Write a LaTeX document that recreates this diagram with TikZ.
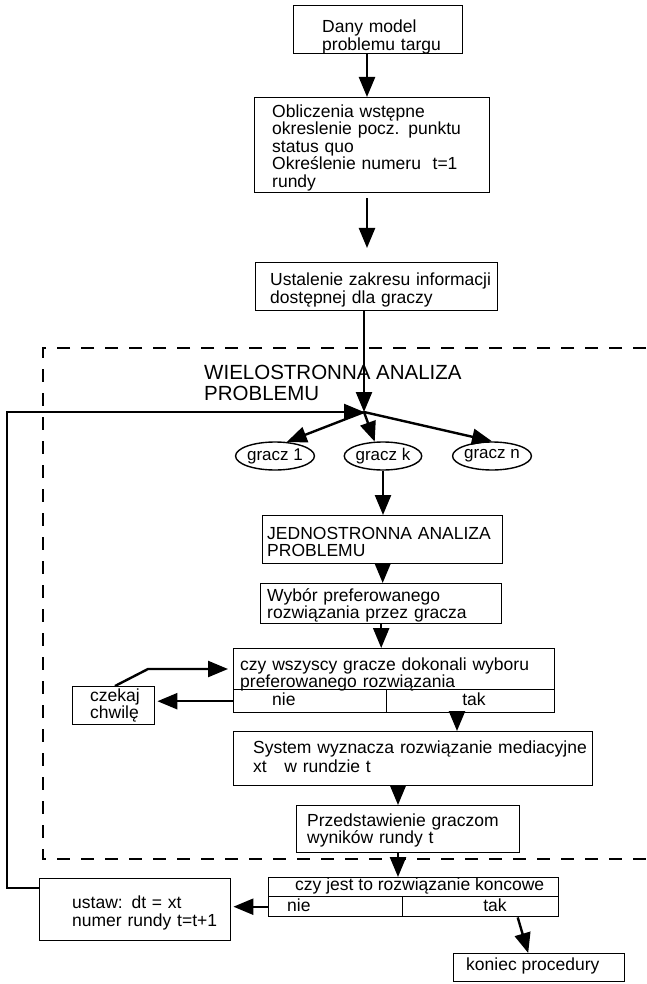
\documentclass[tikz,border=0pt]{standalone}
\usepackage{fontspec}
\setmainfont{Liberation Sans}
\usetikzlibrary{arrows.meta,shapes.geometric,calc}
\newcommand\fz[1]{\fontsize{17.5}{#1}\selectfont\lineskiplimit=-50pt\lineskip=0pt}
\tikzset{
  box/.style={draw, line width=1.4pt, inner sep=0pt, anchor=north west},
  txt/.style={inner sep=0pt, anchor=north west, align=left},
  lbl/.style={inner sep=0pt, font=\fz{18}},
  ell/.style={ellipse, draw, line width=1.4pt, inner sep=0pt, minimum width=66pt, minimum height=28pt, font=\fontsize{17}{18}\selectfont},
  arr/.style={line width=2.4pt, -{Triangle[length=20pt,width=16pt]}},
  dsh/.style={line width=2.6pt, dash pattern=on 13pt off 11pt},
}
\begin{document}
\begin{tikzpicture}[x=1pt,y=-1pt]
\useasboundingbox (0,0) rectangle (646,984);
% dashed region
\draw[dsh] (646,348) -- (43,348) -- (43,859) -- (646,859);

% boxes and texts
\node[box, minimum width=169pt, minimum height=48pt] (b1) at (293,5) {};
\node[txt, text width=138pt, font=\fz{18}] (t1) at (322,19.2) {Dany model\\problemu targu};

\node[box, minimum width=235pt, minimum height=95pt] (b2) at (254,97) {};
\node[txt, text width=215pt, font=\fz{17.5}] (t2) at (272,104.2) {Obliczenia wstępne\\okreslenie pocz. punktu\\status quo\\Określenie numeru\ \ t=1\\rundy};

\node[box, minimum width=242pt, minimum height=48pt] (b3) at (255,262) {};
\node[txt, text width=226pt, font=\fz{18}] (t3) at (270,272.2) {Ustalenie zakresu informacji\\dostępnej dla graczy};

\node[txt, font=\fontsize{20.5}{21}\selectfont] (hdr) at (204,365.3) {WIELOSTRONNA ANALIZA\\PROBLEMU};

\coordinate (J) at (364,412);
\coordinate (fb) at (7,412);

\node[ell] (g1) at (275,456) {gracz 1};
\node[ell] (gk) at (383,456) {gracz k};
\node[ell] (gn) at (492,456) {gracz n};

\node[box, minimum width=240pt, minimum height=48pt] (b4) at (262,515) {};
\node[txt, text width=234pt, font=\fz{17}] (t4) at (267,527.5) {JEDNOSTRONNA ANALIZA\\PROBLEMU};

\node[box, minimum width=241pt, minimum height=40pt] (b5) at (260,583) {};
\node[txt, text width=232pt, font=\fz{17}] (t5) at (267,588.2) {Wybór preferowanego\\rozwiązania przez gracza};

\node[box, minimum width=321pt, minimum height=41pt] (b6) at (233,648) {};
\node[txt, text width=312pt, font=\fz{17}] (t6) at (240,657.2) {czy wszyscy gracze dokonali wyboru\\preferowanego rozwiązania};
\node[box, minimum width=153pt, minimum height=23pt] (c6n) at (233,689) {};
\node[box, minimum width=168pt, minimum height=23pt] (c6t) at (386,689) {};
\node[lbl, anchor=base west] (n1) at (272,705) {nie};
\node[lbl, anchor=base] (k1) at (474,705) {tak};

\node[box, minimum width=82pt, minimum height=38pt] (b7) at (72,686) {};
\node[txt, text width=62pt, font=\fz{17}] (t7) at (90,688.2) {czekaj\\chwilę};

\node[box, minimum width=359pt, minimum height=54pt] (b8) at (233,731) {};
\node[txt, text width=345pt, font=\fz{19}] (t8) at (253,740.2) {System wyznacza rozwiązanie mediacyjne\\xt\ \ \ w rundzie t};

\node[box, minimum width=223pt, minimum height=47pt] (b9) at (296,805) {};
\node[txt, text width=210pt, font=\fz{17}] (t9) at (307,813.2) {Przedstawienie graczom\\wyników rundy t};

\node[box, minimum width=290pt, minimum height=19pt] (b10) at (268,877) {};
\node[box, minimum width=134pt, minimum height=20pt] (c10n) at (268,896) {};
\node[box, minimum width=156pt, minimum height=20pt] (c10t) at (402,896) {};
\node[lbl, anchor=base west] (t10) at (295,890) {czy jest to rozwiązanie koncowe};
\node[lbl, anchor=base west] (n2) at (287,911) {nie};
\node[lbl, anchor=base] (k2) at (495,911) {tak};

\node[box, minimum width=191pt, minimum height=62pt] (b11) at (39,878) {};
\node[txt, text width=158pt, font=\fz{18}] (t11) at (72,895.2) {ustaw: dt = xt\\numer rundy t=t+1};

\node[box, minimum width=171pt, minimum height=28pt] (b12) at (453,953) {};
\node[lbl, anchor=base west] (t12) at (466,970) {koniec procedury};

% connectors
\coordinate (x1) at (367,0);
\coordinate (x2) at (457,0);
\coordinate (x3) at (398,0);
\coordinate (cb) at (148,669);
\draw[arr] (b1.south -| x1) -- (b2.north -| x1);
\draw[arr, shorten <=5pt, shorten >=14pt] (b2.south -| x1) -- (b3.north -| x1);
\draw[arr] (b3.south -| J) -- (J);
\draw[arr] ($(b11.north west)+(0,10)$) -| (fb) -- (J);
\draw[arr] (J) -- (g1.50);
\draw[arr] (J) -- (gk.120);
\draw[arr] (J) -- (gn.north);
\draw[arr] (gk.south) -- (gk.south |- b4.north);
\draw[arr] (b4.south) -- (b4.south |- b5.north);
\draw[arr] (b5.south) -- (b5.south |- b6.north);
\draw[arr, shorten >=2pt] (c6n.west) -- (c6n.west -| b7.east);
\draw[arr, shorten >=5pt] ($(b7.north west)+(43,0)$) -- (cb) -- (cb -| b6.west);
\draw[arr] (c6t.south -| x2) -- (b8.north -| x2);
\draw[arr] (b8.south -| x3) -- (b9.north -| x3);
\draw[arr] (b9.south -| x3) -- (b10.north -| x3);
\draw[arr, shorten >=2pt] (c10n.west) -- (c10n.west -| b11.east);
\draw[arr] ($(c10t.south)+(37,0)$) -- ($(b12.north)+(-11,0)$);
\end{tikzpicture}
\end{document}
